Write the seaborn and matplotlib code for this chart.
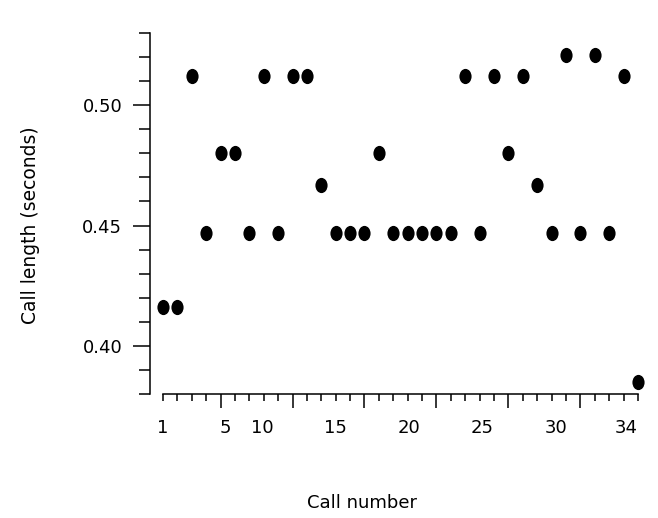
import numpy as np
import pandas as pd
import matplotlib
matplotlib.use("Agg")
import matplotlib.pyplot as plt
import matplotlib.transforms as mtransforms
from matplotlib.path import Path
from matplotlib.ticker import MultipleLocator, FixedLocator, NullFormatter
import seaborn as sns

sns.set_style("ticks", {'axes.edgecolor': 'black', 'xtick.color': 'black',
                        'ytick.color': 'black', 'text.color': 'black',
                        'axes.labelcolor': 'black'})
plt.rcParams['font.family'] = ['DejaVu Sans']

# data
call_number = list(range(1, 35))
call_length = [0.416, 0.416, 0.512, 0.447, 0.480, 0.480, 0.447, 0.512, 0.447, 0.512,
               0.512, 0.467, 0.447, 0.447, 0.447, 0.480, 0.447, 0.447, 0.447, 0.447,
               0.447, 0.512, 0.447, 0.512, 0.480, 0.512, 0.467, 0.447, 0.521, 0.447,
               0.521, 0.447, 0.512, 0.385]

# x tick labels and where they sit in the original figure
xlabel_text = ['1', '5', '10', '15', '20', '25', '30', '34']
xlabel_pos = [1, 5.3, 7.9, 13.0, 18.1, 23.2, 28.3, 33.2]

df = pd.DataFrame({'call': call_number, 'length': call_length})

# tall ellipse marker
circle = Path.unit_circle()
ellipse = Path(mtransforms.Affine2D().scale(0.8, 1.0).transform(circle.vertices), circle.codes)

fig = plt.figure(figsize=(6.58, 5.18), dpi=100)
ax = fig.add_axes([150 / 658, 1 - 394 / 518, 495 / 658, 361 / 518])

sns.scatterplot(data=df, x='call', y='length', marker=ellipse, s=120,
                color='black', edgecolor='black', linewidth=0, ax=ax, clip_on=False)

ax.set_xlim(1 - 13 / 14.39, 34.49)
ax.set_ylim(0.38, 0.53)

for side in ['top', 'right']:
    ax.spines[side].set_visible(False)
ax.spines['left'].set_bounds(0.38, 0.53)
ax.spines['bottom'].set_bounds(1, 34)
ax.spines['left'].set_linewidth(1.1)
ax.spines['bottom'].set_linewidth(1.1)

# x ticks: minor every call, major every 5, labels drawn separately
ax.xaxis.set_major_locator(FixedLocator([5, 10, 15, 20, 25, 30]))
ax.xaxis.set_minor_locator(MultipleLocator(1))
ax.xaxis.set_major_formatter(NullFormatter())
ax.tick_params(axis='x', which='major', length=10, width=1.1, direction='out')
ax.tick_params(axis='x', which='minor', length=5, width=1.1, direction='out')

# y ticks
ax.yaxis.set_major_locator(FixedLocator([0.40, 0.45, 0.50]))
ax.yaxis.set_minor_locator(MultipleLocator(0.01))
ax.set_yticklabels(['0.40', '0.45', '0.50'])
ax.tick_params(axis='y', which='major', length=12, width=1.1, direction='out',
               labelsize=13, pad=8)
ax.tick_params(axis='y', which='minor', length=8, width=1.1, direction='out')

trans = mtransforms.blended_transform_factory(ax.transData, ax.transAxes)
for pos, txt in zip(xlabel_pos, xlabel_text):
    ax.text(pos, -34 / 361, txt, transform=trans, ha='center', va='center', fontsize=13)

ax.set_xlabel('Call number', fontsize=13)
ax.xaxis.set_label_coords(212 / 495, -109 / 361)
ax.xaxis.label.set_va('center')
ax.set_ylabel('Call length (seconds)', fontsize=13.5)
ax.yaxis.set_label_coords(-120 / 495, 169 / 361)
ax.yaxis.label.set_va('center')

fig.savefig('out.png', dpi=100)
